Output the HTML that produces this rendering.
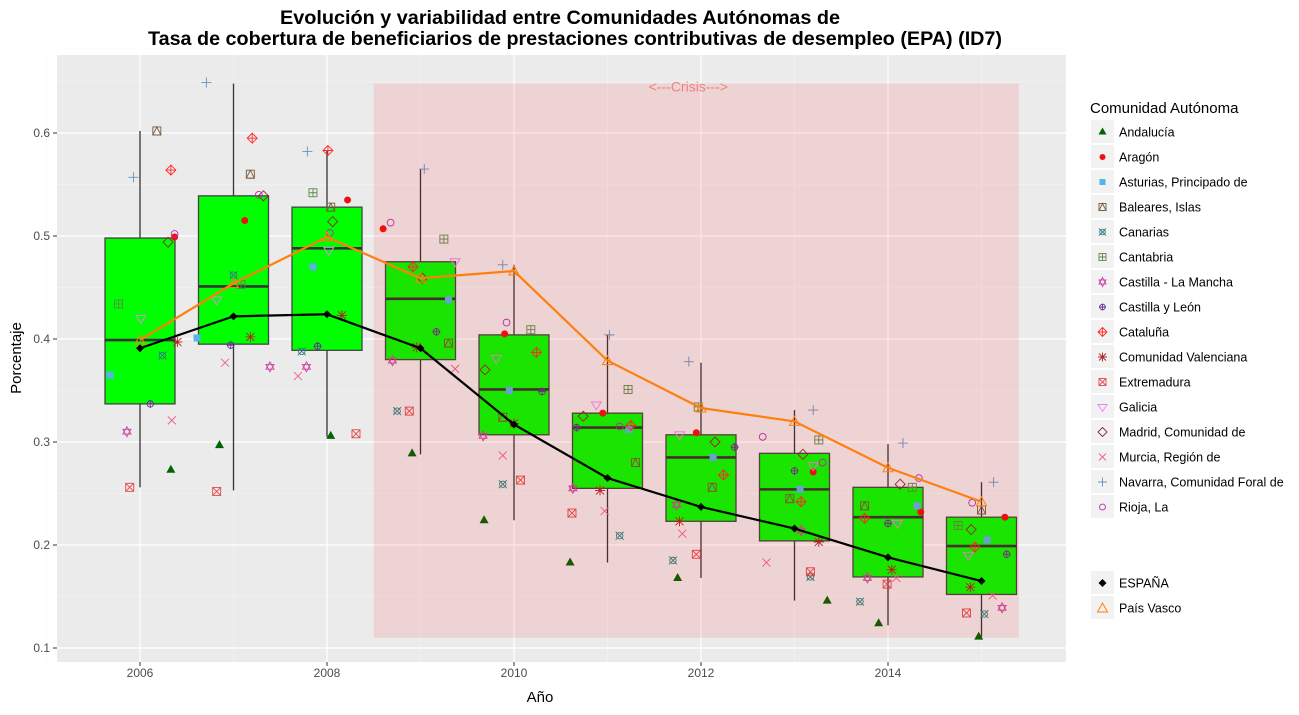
<!DOCTYPE html>
<html><head><meta charset="utf-8"><style>
body{margin:0;background:#fff;width:1299px;height:710px;overflow:hidden}
svg text{font-family:"Liberation Sans",Arial,sans-serif}
</style></head><body>
<svg id="chart" width="1299" height="710" xmlns="http://www.w3.org/2000/svg">
<text x="560" y="24" text-anchor="middle" font-size="19" font-weight="bold" textLength="560" lengthAdjust="spacingAndGlyphs">Evolución y variabilidad entre Comunidades Autónomas de</text>
<text x="575" y="45" text-anchor="middle" font-size="19" font-weight="bold" textLength="854" lengthAdjust="spacingAndGlyphs">Tasa de cobertura de beneficiarios de prestaciones contributivas de desempleo (EPA) (ID7)</text>
<rect x="57" y="55" width="1009" height="607" fill="#ebebeb"/>
<g id="grid"></g>
<g id="boxes"></g>
<g id="points"></g>
<g id="crisis"></g>
<g id="lines"></g>
<g id="axes"></g>
<text transform="translate(21,358) rotate(-90)" text-anchor="middle" font-size="15">Porcentaje</text>
<text x="540" y="702" text-anchor="middle" font-size="15">Año</text>
<g id="legend"></g>
</svg>
<script>
const years=[2006,2007,2008,2009,2010,2011,2012,2013,2014,2015];
const yTicks=[0.1,0.2,0.3,0.4,0.5,0.6];
const xTicks=[2006,2008,2010,2012,2014];
const boxLow=[0.256,0.253,0.305,0.288,0.224,0.183,0.168,0.146,0.122,0.111];
const boxQ1=[0.337,0.395,0.389,0.380,0.307,0.255,0.223,0.204,0.169,0.152];
const boxMed=[0.399,0.451,0.488,0.439,0.351,0.314,0.285,0.254,0.227,0.199];
const boxQ3=[0.498,0.539,0.528,0.475,0.404,0.328,0.307,0.289,0.256,0.227];
const boxHigh=[0.602,0.648,0.583,0.565,0.472,0.404,0.377,0.331,0.298,0.261];
const espana=[0.391,0.422,0.424,0.391,0.317,0.265,0.237,0.216,0.188,0.165];
const paisVasco=[0.399,0.454,0.499,0.459,0.466,0.379,0.333,0.320,0.275,0.242];
const crisis=[2008.5,2015.4,0.11,0.648];
const regions=["Andalucía","Aragón","Asturias, Principado de","Baleares, Islas","Canarias","Cantabria","Castilla - La Mancha","Castilla y León","Cataluña","Comunidad Valenciana","Extremadura","Galicia","Madrid, Comunidad de","Murcia, Región de","Navarra, Comunidad Foral de","Rioja, La"];
const regionPts=[
[[2006.33,0.273],[2006.85,0.297],[2008.04,0.306],[2008.91,0.289],[2009.68,0.224],[2010.6,0.183],[2011.75,0.168],[2013.35,0.146],[2013.9,0.124],[2014.97,0.111]],
[[2006.37,0.499],[2007.12,0.515],[2008.22,0.535],[2008.6,0.507],[2009.9,0.405],[2010.95,0.328],[2011.95,0.309],[2013.2,0.271],[2014.35,0.232],[2015.25,0.227]],
[[2005.68,0.365],[2006.61,0.401],[2007.85,0.47],[2009.3,0.438],[2009.95,0.350],[2011.23,0.312],[2012.13,0.285],[2013.06,0.254],[2014.31,0.238],[2015.06,0.205]],
[[2006.18,0.602],[2007.18,0.560],[2008.04,0.528],[2009.3,0.396],[2009.88,0.324],[2011.3,0.280],[2012.12,0.256],[2012.95,0.245],[2013.75,0.238],[2015.0,0.234]],
[[2006.24,0.384],[2007.0,0.462],[2007.73,0.388],[2008.75,0.330],[2009.88,0.259],[2011.13,0.209],[2011.7,0.185],[2013.17,0.169],[2013.7,0.145],[2015.03,0.133]],
[[2005.77,0.434],[2007.08,0.453],[2007.85,0.542],[2009.25,0.497],[2010.18,0.409],[2011.22,0.351],[2011.97,0.334],[2013.26,0.302],[2014.26,0.256],[2014.75,0.219]],
[[2005.86,0.310],[2007.39,0.373],[2007.78,0.373],[2008.7,0.379],[2009.67,0.306],[2010.63,0.255],[2011.74,0.239],[2013.07,0.214],[2013.78,0.168],[2015.22,0.139]],
[[2006.11,0.337],[2006.97,0.394],[2007.9,0.393],[2009.17,0.407],[2010.3,0.349],[2010.67,0.314],[2012.36,0.295],[2013.0,0.272],[2014.0,0.221],[2015.27,0.191]],
[[2006.33,0.564],[2007.2,0.595],[2008.01,0.583],[2008.92,0.470],[2010.24,0.387],[2011.25,0.316],[2012.24,0.268],[2013.07,0.242],[2013.75,0.226],[2014.93,0.198]],
[[2006.4,0.397],[2007.18,0.402],[2008.16,0.423],[2008.96,0.392],[2010.0,0.318],[2010.92,0.253],[2011.77,0.223],[2013.26,0.203],[2014.04,0.176],[2014.88,0.159]],
[[2005.89,0.256],[2006.82,0.252],[2008.31,0.308],[2008.88,0.330],[2010.07,0.263],[2010.62,0.231],[2011.95,0.191],[2013.17,0.174],[2013.99,0.162],[2014.84,0.134]],
[[2006.01,0.420],[2006.82,0.438],[2008.02,0.486],[2009.37,0.475],[2009.81,0.381],[2010.88,0.336],[2011.77,0.307],[2013.2,0.277],[2014.1,0.221],[2014.86,0.190]],
[[2006.3,0.494],[2007.32,0.539],[2008.06,0.514],[2009.02,0.459],[2009.69,0.370],[2010.74,0.325],[2012.15,0.300],[2013.09,0.288],[2014.13,0.259],[2014.89,0.215]],
[[2006.34,0.321],[2006.91,0.377],[2007.69,0.364],[2009.37,0.371],[2009.88,0.287],[2010.97,0.233],[2011.8,0.211],[2012.7,0.183],[2014.09,0.168],[2015.12,0.151]],
[[2005.93,0.557],[2006.71,0.649],[2007.79,0.582],[2009.04,0.565],[2009.88,0.472],[2011.02,0.404],[2011.87,0.378],[2013.2,0.331],[2014.16,0.299],[2015.13,0.261]],
[[2006.37,0.502],[2007.27,0.540],[2008.03,0.503],[2008.68,0.513],[2009.92,0.416],[2011.13,0.315],[2012.66,0.305],[2013.3,0.280],[2014.33,0.265],[2014.9,0.241]]
];
const regionColors=["#006400","#ee1111","#56b4e9","#7a5a3a","#2f8080","#5a8a4a","#d040a0","#6a2a9a","#ff2a2a","#b22222","#e04848","#f080f0","#8b2a2a","#f06080","#6890c0","#b030b0"];
const shapes=["tri","dot","sq","sqtri","cx","sqplus","star","cplus","dplus","ast","sqx","dtri","dia","x","plus","circ"];

const NS="http://www.w3.org/2000/svg";
const X=v=>140+(v-2006)*93.5;
const Y=v=>648-(v-0.1)*1030;
function mk(parent,tag,attrs){const e=document.createElementNS(NS,tag);for(const k in attrs)e.setAttribute(k,attrs[k]);parent.appendChild(e);return e;}
const G=id=>document.getElementById(id);

// grid
const grid=G('grid');
for(let v=0.15;v<0.66;v+=0.1){const l=mk(grid,'line',{x1:57,x2:1066,y1:Y(v),y2:Y(v),stroke:'#f5f5f5','stroke-width':0.6});

}
for(let yr=2005;yr<=2015;yr+=2){const l=mk(grid,'line',{x1:X(yr),x2:X(yr),y1:55,y2:662,stroke:'#f5f5f5','stroke-width':0.6});

}
yTicks.forEach(v=>{const l=mk(grid,'line',{x1:57,x2:1066,y1:Y(v),y2:Y(v),stroke:'#fff','stroke-width':1.2});

});
xTicks.forEach(v=>{const l=mk(grid,'line',{x1:X(v),x2:X(v),y1:55,y2:662,stroke:'#fff','stroke-width':1.2});

});

// boxes
const bx=G('boxes');
years.forEach((yr,i)=>{
  const g=mk(bx,'g',{});
  
  
  const cx=X(yr),hw=35;
  mk(g,'line',{x1:cx,x2:cx,y1:Y(boxHigh[i]),y2:Y(boxQ3[i]),stroke:'#333','stroke-width':1.3});
  mk(g,'line',{x1:cx,x2:cx,y1:Y(boxQ1[i]),y2:Y(boxLow[i]),stroke:'#333','stroke-width':1.3});
  mk(g,'rect',{x:cx-hw,y:Y(boxQ3[i]),width:2*hw,height:Y(boxQ1[i])-Y(boxQ3[i]),fill:'#00ff00',stroke:'#444','stroke-width':1.3});
  mk(g,'line',{x1:cx-hw,x2:cx+hw,y1:Y(boxMed[i]),y2:Y(boxMed[i]),stroke:'#333','stroke-width':2.6});
});

function marker(parent,shape,x,y,c,s){
  s=s||4;const g=mk(parent,'g',{fill:'none',stroke:c,'stroke-width':0.9});
  const sq=()=>mk(g,'rect',{x:x-s,y:y-s,width:2*s,height:2*s});
  switch(shape){
    case 'tri':mk(g,'polygon',{points:`${x},${y-s-1} ${x-s-0.5},${y+s-1} ${x+s+0.5},${y+s-1}`,fill:c,stroke:'none'});break;
    case 'dot':mk(g,'circle',{cx:x,cy:y,r:s-0.5,fill:c,stroke:'none'});break;
    case 'sq':mk(g,'rect',{x:x-s+0.5,y:y-s+0.5,width:2*s-1,height:2*s-1,fill:c,stroke:'none'});break;
    case 'sqtri':sq();mk(g,'polygon',{points:`${x},${y-s} ${x-s},${y+s} ${x+s},${y+s}`});break;
    case 'cx':mk(g,'circle',{cx:x,cy:y,r:s*0.8});mk(g,'path',{d:`M${x-s} ${y-s}L${x+s} ${y+s}M${x-s} ${y+s}L${x+s} ${y-s}`});break;
    case 'sqplus':sq();mk(g,'path',{d:`M${x-s} ${y}L${x+s} ${y}M${x} ${y-s}L${x} ${y+s}`});break;
    case 'star':mk(g,'polygon',{points:`${x},${y-s-1} ${x-s},${y+s*0.6} ${x+s},${y+s*0.6}`});mk(g,'polygon',{points:`${x},${y+s+1} ${x-s},${y-s*0.6} ${x+s},${y-s*0.6}`});break;
    case 'cplus':mk(g,'circle',{cx:x,cy:y,r:s*0.8});mk(g,'path',{d:`M${x-s} ${y}L${x+s} ${y}M${x} ${y-s}L${x} ${y+s}`});break;
    case 'dplus':mk(g,'polygon',{points:`${x},${y-s-1} ${x+s+1},${y} ${x},${y+s+1} ${x-s-1},${y}`});mk(g,'path',{d:`M${x-s-1} ${y}L${x+s+1} ${y}M${x} ${y-s-1}L${x} ${y+s+1}`});break;
    case 'ast':mk(g,'path',{d:`M${x-s-1} ${y}L${x+s+1} ${y}M${x} ${y-s-1}L${x} ${y+s+1}M${x-s} ${y-s}L${x+s} ${y+s}M${x-s} ${y+s}L${x+s} ${y-s}`});break;
    case 'sqx':sq();mk(g,'path',{d:`M${x-s} ${y-s}L${x+s} ${y+s}M${x-s} ${y+s}L${x+s} ${y-s}`});break;
    case 'dtri':mk(g,'polygon',{points:`${x},${y+s+1} ${x-s-1},${y-s+1} ${x+s+1},${y-s+1}`});break;
    case 'dia':mk(g,'polygon',{points:`${x},${y-s-1} ${x+s+1},${y} ${x},${y+s+1} ${x-s-1},${y}`});break;
    case 'x':mk(g,'path',{d:`M${x-s} ${y-s}L${x+s} ${y+s}M${x-s} ${y+s}L${x+s} ${y-s}`});break;
    case 'plus':mk(g,'path',{d:`M${x-s-1} ${y}L${x+s+1} ${y}M${x} ${y-s-1}L${x} ${y+s+1}`});break;
    case 'circ':mk(g,'circle',{cx:x,cy:y,r:s*0.85});break;
  }
  return g;
}

const pts=G('points');
regionPts.forEach((arr,r)=>{
  arr.forEach(p=>{
    const m=marker(pts,shapes[r],X(p[0]),Y(p[1]),regionColors[r]);
    
    
  });
});

// crisis band
const cr=mk(G('crisis'),'rect',{x:X(crisis[0]),y:Y(crisis[3]),width:X(crisis[1])-X(crisis[0]),height:Y(crisis[2])-Y(crisis[3]),fill:'rgba(255,0,0,0.1)'});


const ct=mk(G('crisis'),'text',{x:(X(crisis[0])+X(crisis[1]))/2-8,y:Y(crisis[3])+8,'text-anchor':'middle','font-size':14,fill:'#f08080'});
ct.textContent='<---Crisis--->';



// lines
const ln=G('lines');
const pv=mk(ln,'polyline',{points:years.map((y,i)=>X(y)+','+Y(paisVasco[i])).join(' '),fill:'none',stroke:'#ff7f0e','stroke-width':2.2});


years.forEach((y,i)=>{const t=mk(ln,'polygon',{points:`${X(y)},${Y(paisVasco[i])-5} ${X(y)-5},${Y(paisVasco[i])+4} ${X(y)+5},${Y(paisVasco[i])+4}`,fill:'none',stroke:'#ff7f0e','stroke-width':1});

});
const es=mk(ln,'polyline',{points:years.map((y,i)=>X(y)+','+Y(espana[i])).join(' '),fill:'none',stroke:'#000','stroke-width':2.2});


years.forEach((y,i)=>{const d=mk(ln,'polygon',{points:`${X(y)},${Y(espana[i])-4} ${X(y)+4},${Y(espana[i])} ${X(y)},${Y(espana[i])+4} ${X(y)-4},${Y(espana[i])}`,fill:'#000'});

});

// axes
const ax=G('axes');
yTicks.forEach(v=>{
  const t=mk(ax,'text',{x:50,y:Y(v)+4,'text-anchor':'end','font-size':12,fill:'#4d4d4d'});t.textContent=v.toFixed(1);
  
  
  mk(ax,'line',{x1:53,x2:57,y1:Y(v),y2:Y(v),stroke:'#333'});
});
xTicks.forEach(v=>{
  const t=mk(ax,'text',{x:X(v),y:677,'text-anchor':'middle','font-size':12,fill:'#4d4d4d'});t.textContent=v;
  
  
  mk(ax,'line',{x1:X(v),x2:X(v),y1:662,y2:666,stroke:'#333'});
});

// legend
const lg=G('legend');
const lt=mk(lg,'text',{x:1090,y:113,'font-size':15});lt.textContent='Comunidad Autónoma';


regions.forEach((name,i)=>{
  const y=132+i*25;
  const g=mk(lg,'g',{});
  
  
  mk(g,'rect',{x:1091,y:y-12,width:23,height:23,fill:'#f2f2f2'});
  marker(g,shapes[i],1102.5,y,regionColors[i],3.5);
  const t=mk(g,'text',{x:1119,y:y+4.5,'font-size':12.5});t.textContent=name;
});
[['ESPAÑA','es'],['País Vasco','pv']].forEach((e,i)=>{
  const y=583+i*25;
  const g=mk(lg,'g',{});
  
  
  mk(g,'rect',{x:1091,y:y-12,width:23,height:23,fill:'#f2f2f2'});
  if(e[1]=='es')mk(g,'polygon',{points:`1102.5,${y-4} 1106.5,${y} 1102.5,${y+4} 1098.5,${y}`,fill:'#000'});
  else mk(g,'polygon',{points:`1102.5,${y-5} 1097.5,${y+4} 1107.5,${y+4}`,fill:'none',stroke:'#ff7f0e'});
  const t=mk(g,'text',{x:1119,y:y+4.5,'font-size':12.5});t.textContent=e[0];
});
</script>
</body></html>
